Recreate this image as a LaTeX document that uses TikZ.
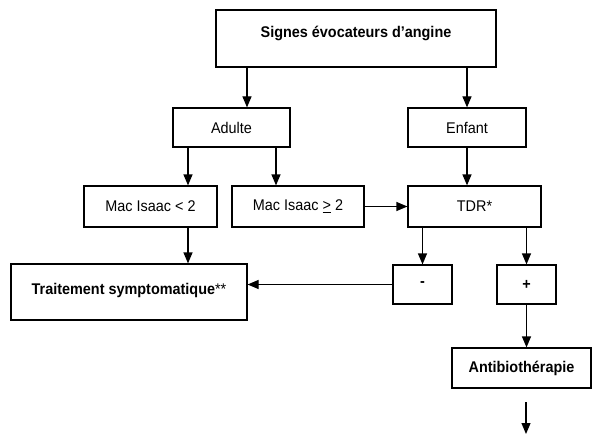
\documentclass[tikz,border=0pt]{standalone}
\usepackage{fontspec}
\setmainfont[FakeStretch=0.93]{Liberation Sans}
\usetikzlibrary{arrows.meta}
\begin{document}
\begin{tikzpicture}[x=1pt,y=-1pt,
  box/.style={draw,line width=1.2pt,inner sep=0pt,font=\fontsize{15.5}{17}\selectfont},
  boxgras/.style={box,font=\fontsize{15.5}{17}\selectfont\bfseries},
  fleche/.style={-{Triangle[length=11pt,width=9pt]},line width=1.2pt}]
  \useasboundingbox (0,0) rectangle (592,436);
  % boites
  \node[boxgras,minimum width=280pt,minimum height=57pt,text height=11pt,text depth=12pt] (signes) at (356,38.5) {Signes évocateurs d'angine};
  \node[box,minimum width=117pt,minimum height=39pt] (adulte) at (231.5,127.5) {Adulte};
  \node[box,minimum width=118pt,minimum height=39pt] (enfant) at (467,127.5) {Enfant};
  \node[box,minimum width=133pt,minimum height=41pt] (macinf) at (150.5,206.5) {Mac Isaac < 2};
  \node[box,minimum width=132pt,minimum height=41pt] (macsup) at (298,206.5) {Mac Isaac \underline{>} 2};
  \node[box,minimum width=133pt,minimum height=41pt] (tdr) at (474.5,206.5) {TDR*};
  \node[boxgras,minimum width=236pt,minimum height=56pt,text height=11pt,text depth=7pt] (traitement) at (129,292) {Traitement symptomatique{\mdseries**}};
  \node[boxgras,minimum width=59pt,minimum height=39pt] (moins) at (422.5,284.5) {-};
  \node[boxgras,minimum width=59pt,minimum height=39pt] (plus) at (526.5,284.5) {+};
  \node[boxgras,minimum width=139pt,minimum height=40pt] (antibio) at (521.5,368) {Antibiothérapie};
  \coordinate (suite) at (526,402);
  \coordinate (fin) at (526,434);
  % fleches
  \draw[fleche] (signes.south -| 247,0) -- (adulte.north -| 247,0);
  \draw[fleche] (signes.south -| enfant.north) -- (enfant.north);
  \draw[fleche] (adulte.south -| 188,0) -- (macinf.north -| 188,0);
  \draw[fleche] (adulte.south -| 276,0) -- (macsup.north -| 276,0);
  \draw[fleche] (enfant.south) -- (tdr.north -| enfant.south);
  \draw[fleche] (macsup.east) -- (tdr.west);
  \draw[fleche] (tdr.south -| moins.north) -- (moins.north);
  \draw[fleche] (tdr.south -| plus.north) -- (plus.north);
  \draw[fleche] (macinf.south -| 188,0) -- (traitement.north -| 188,0);
  \draw[fleche] (moins.west) -- (traitement.east |- moins.west);
  \draw[fleche] (plus.south) -- (antibio.north -| plus.south);
  \draw[fleche] (suite) -- (fin);
\end{tikzpicture}
\end{document}
